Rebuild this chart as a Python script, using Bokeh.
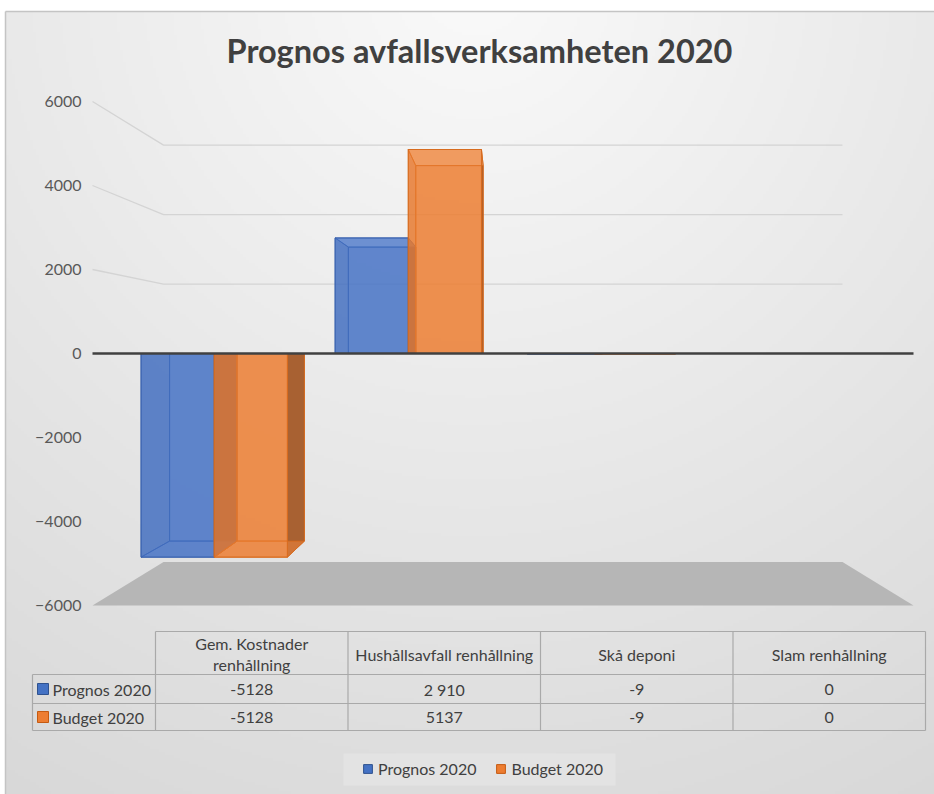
import numpy as np
from bokeh.plotting import figure
from bokeh.models import Range1d, FixedTicker, Legend, LegendItem, ColumnDataSource
from bokeh.core.properties import value
from bokeh.embed import file_html
from bokeh.resources import INLINE

# ---------------- data ----------------
title = "Prognos avfallsverksamheten 2020"
categories = ["Gem. Kostnader renhållning", "Hushållsavfall renhållning", "Skå deponi", "Slam renhållning"]
header_labels = ["Gem. Kostnader\nrenhållning", "Hushållsavfall renhållning", "Skå deponi", "Slam renhållning"]
series_names = ["Prognos 2020", "Budget 2020"]
prognos = [-5128, 2910, -9, 0]
budget = [-5128, 5137, -9, 0]
prognos_table = ["-5128", "2 910", "-9", "0"]
budget_table = ["-5128", "5137", "-9", "0"]
y_ticks = [-6000, -4000, -2000, 0, 2000, 4000, 6000]
wall_grid = [2000, 4000, 6000]

# ---------------- styles / geometry ----------------
FONT = "Lato"
BLUE = dict(base="#4472C4", light="#7C9EDB", mid="#3D67B4", dark="#2F528F", edge="#3A62AE")
ORANGE = dict(base="#ED7D31", light="#F8AE76", mid="#D8702A", dark="#9C5526", edge="#D66A1E", sq_edge="#C55A11")
TEXT = "#404040"

W, H = 934, 794                   # canvas (page px == canvas px)
PX_UNIT = 0.042                   # px per value unit on the front plane
CAT_PX = 205.25                   # px per category on the front plane
ORIGIN_X, ORIGIN_Y = 92.0, 353.0  # px of (x=0, value=0)
CHART_X0, CHART_Y0 = 5.0, 11.0    # chart area top-left corner


def dx(px):
    return (px - ORIGIN_X) / CAT_PX


def dy(py):
    return (ORIGIN_Y - py) / PX_UNIT


NCAT = len(categories)
VX = NCAT / 2.0
S_FRONT, S_BACK, S_WALL = 0.9455, 0.871, 0.827
BAR_START, BAR_W = 0.135, 0.377


def proj(x, y, s):
    return VX + s * (x - VX), s * y


def bg_image(rx0, rx1, ry0, ry1, step=3):
    xs = np.arange(rx0, rx1, step) + step / 2.0
    ys = np.arange(ry1, ry0, -step) - step / 2.0
    X, Y = np.meshgrid(xs, ys)
    d = np.sqrt((X - 475.0) ** 2 + (Y + 20.0) ** 2)
    v = np.clip(250 - 0.036 * d, 0, 255).astype(np.uint32)
    img = (np.uint32(255) << 24) | (v << 16) | (v << 8) | v
    return img.astype(np.uint32)


p = figure(width=W, height=H, x_range=Range1d(dx(0), dx(W)), y_range=Range1d(dy(H), dy(0)),
           x_axis_location=None, y_axis_location="left", toolbar_location=None,
           output_backend="svg", min_border=0, outline_line_color=None)
p.border_fill_color = "white"
p.background_fill_color = "white"
p.xgrid.visible = False
p.ygrid.visible = False
p.yaxis.fixed_location = 0
p.yaxis.ticker = FixedTicker(ticks=y_ticks)
p.yaxis.axis_line_color = None
p.yaxis.major_tick_line_color = None
p.yaxis.minor_tick_line_color = None
p.yaxis.major_label_standoff = 5
p.yaxis.major_label_text_font = FONT
p.yaxis.major_label_text_font_size = "16px"
p.yaxis.major_label_text_color = "#595959"

# chart area background + border
p.image_rgba(image=[bg_image(CHART_X0, W, CHART_Y0, H)], x=dx(CHART_X0), y=dy(H),
             dw=dx(W) - dx(CHART_X0), dh=dy(CHART_Y0) - dy(H), level="image")
p.segment(x0=[dx(CHART_X0), dx(CHART_X0)], y0=[dy(CHART_Y0), dy(CHART_Y0)],
          x1=[dx(W), dx(CHART_X0)], y1=[dy(CHART_Y0), dy(H)],
          line_color="#c4c4c4", line_width=1.5, level="image")

# floor
fl = [proj(0, y_ticks[0], 1.0), proj(NCAT, y_ticks[0], 1.0), proj(NCAT, y_ticks[0], S_WALL), proj(0, y_ticks[0], S_WALL)]
p.patch([q[0] for q in fl], [q[1] for q in fl], fill_color="#b6b6b6", line_color=None)

# wall gridlines (side wall + back wall)
gxs, gys = [], []
for g in wall_grid:
    a = proj(0, g, 1.0)
    b = proj(0, g, S_WALL)
    c = proj(NCAT, g, S_WALL)
    gxs.append([a[0], b[0], c[0]])
    gys.append([a[1], b[1], c[1]])
p.multi_line(gxs, gys, line_color="#d4d4d4", line_width=1.3)


def bar_faces(x0, x1, v, col):
    def quad(pts):
        pr = [proj(*q) for q in pts]
        return [q[0] for q in pr], [q[1] for q in pr]
    faces = []
    faces.append((quad([(x0, 0, S_BACK), (x1, 0, S_BACK), (x1, v, S_BACK), (x0, v, S_BACK)]), col["base"], 0.6))
    faces.append((quad([(x0, 0, S_FRONT), (x0, v, S_FRONT), (x0, v, S_BACK), (x0, 0, S_BACK)]), col["mid"], 0.6))
    faces.append((quad([(x1, 0, S_FRONT), (x1, v, S_FRONT), (x1, v, S_BACK), (x1, 0, S_BACK)]), col["dark"], 0.85))
    faces.append((quad([(x0, v, S_FRONT), (x1, v, S_FRONT), (x1, v, S_BACK), (x0, v, S_BACK)]),
                  col["light"] if v > 0 else col["base"], 0.6))
    faces.append((quad([(x0, 0, S_FRONT), (x1, 0, S_FRONT), (x1, v, S_FRONT), (x0, v, S_FRONT)]), col["base"], 0.6))
    return faces


for k, (vals, col) in enumerate([(prognos, BLUE), (budget, ORANGE)]):
    xs, ys, fc, fa = [], [], [], []
    for i, v in enumerate(vals):
        x0 = i + BAR_START + k * BAR_W
        x1 = x0 + BAR_W
        for (qx, qy), c, a in bar_faces(x0, x1, v, col):
            xs.append(qx); ys.append(qy); fc.append(c); fa.append(a)
    src = ColumnDataSource(dict(xs=xs, ys=ys, fc=fc, fa=fa))
    p.patches("xs", "ys", source=src, fill_color="fc", fill_alpha="fa",
              line_color=col["edge"], line_width=1, line_alpha=0.9)

# zero line
p.segment(x0=[0], y0=[0], x1=[NCAT], y1=[0], line_color="#404040", line_width=2.5)

# title
p.text(x=[dx(479)], y=[dy(50)], text=[title],
       text_font=value(FONT), text_font_style="bold", text_font_size="32.5px",
       text_color=TEXT, text_align="center", text_baseline="middle")

# ---------------- data table ----------------
T_X0, COL_W, L_X0 = 155.0, 192.5, 32.0
HEAD_TOP, R1, R2, BOT = 631.0, 674.0, 703.0, 730.0
T_X1 = T_X0 + COL_W * NCAT

hx0 = [T_X0, L_X0, L_X0, L_X0]
hy = [HEAD_TOP, R1, R2, BOT]
p.segment(x0=[dx(a) for a in hx0], y0=[dy(b) for b in hy], x1=[dx(T_X1)] * 4, y1=[dy(b) for b in hy],
          line_color="#a9a9a9", line_width=1.2)
vx = [L_X0] + [T_X0 + COL_W * k for k in range(NCAT + 1)]
vy0 = [R1] + [HEAD_TOP] * (NCAT + 1)
p.segment(x0=[dx(a) for a in vx], y0=[dy(b) for b in vy0], x1=[dx(a) for a in vx], y1=[dy(BOT)] * len(vx),
          line_color="#a9a9a9", line_width=1.2)

cx = [dx(T_X0 + COL_W * (k + 0.5)) for k in range(NCAT)]
common = dict(text_font=value(FONT), text_font_size="16px", text_color=TEXT, text_baseline="middle")
p.text(x=cx, y=[dy((HEAD_TOP + R1) / 2 + 1)] * NCAT, text=header_labels, text_align="center",
       text_line_height=1.1, **common)
p.text(x=cx, y=[dy((R1 + R2) / 2)] * NCAT, text=prognos_table, text_align="center", **common)
p.text(x=cx, y=[dy((R2 + BOT) / 2)] * NCAT, text=budget_table, text_align="center", **common)

rb = p.rect(x=[dx(42.5)], y=[dy((R1 + R2) / 2)], width=11, height=11, width_units="screen",
            height_units="screen", fill_color=BLUE["base"], line_color=BLUE["dark"], line_width=1)
ro = p.rect(x=[dx(42.5)], y=[dy((R2 + BOT) / 2)], width=11, height=11, width_units="screen",
            height_units="screen", fill_color=ORANGE["base"], line_color=ORANGE["sq_edge"], line_width=1)
p.text(x=[dx(52), dx(52)], y=[dy((R1 + R2) / 2), dy((R2 + BOT) / 2)], text=series_names,
       text_align="left", **common)

# ---------------- legend ----------------
LEG_L, LEG_R, LEG_T, LEG_B = 343.0, 615.0, 753.0, 785.0
p.quad(left=[dx(LEG_L)], right=[dx(LEG_R)], top=[dy(LEG_T)], bottom=[dy(LEG_B)],
       fill_color="#e3e3e3", line_color=None)
legend = Legend(items=[LegendItem(label=series_names[0], renderers=[rb]),
                       LegendItem(label=series_names[1], renderers=[ro])],
                orientation="horizontal", location=(362, 16),
                background_fill_alpha=0.0,
                border_line_color=None, label_text_font=FONT, label_text_font_size="16px",
                label_text_color=TEXT, glyph_width=11, glyph_height=11, label_standoff=5,
                spacing=19, padding=6, margin=0)
p.add_layout(legend)

open("out.html", "w").write(file_html(p, INLINE, title=title))
